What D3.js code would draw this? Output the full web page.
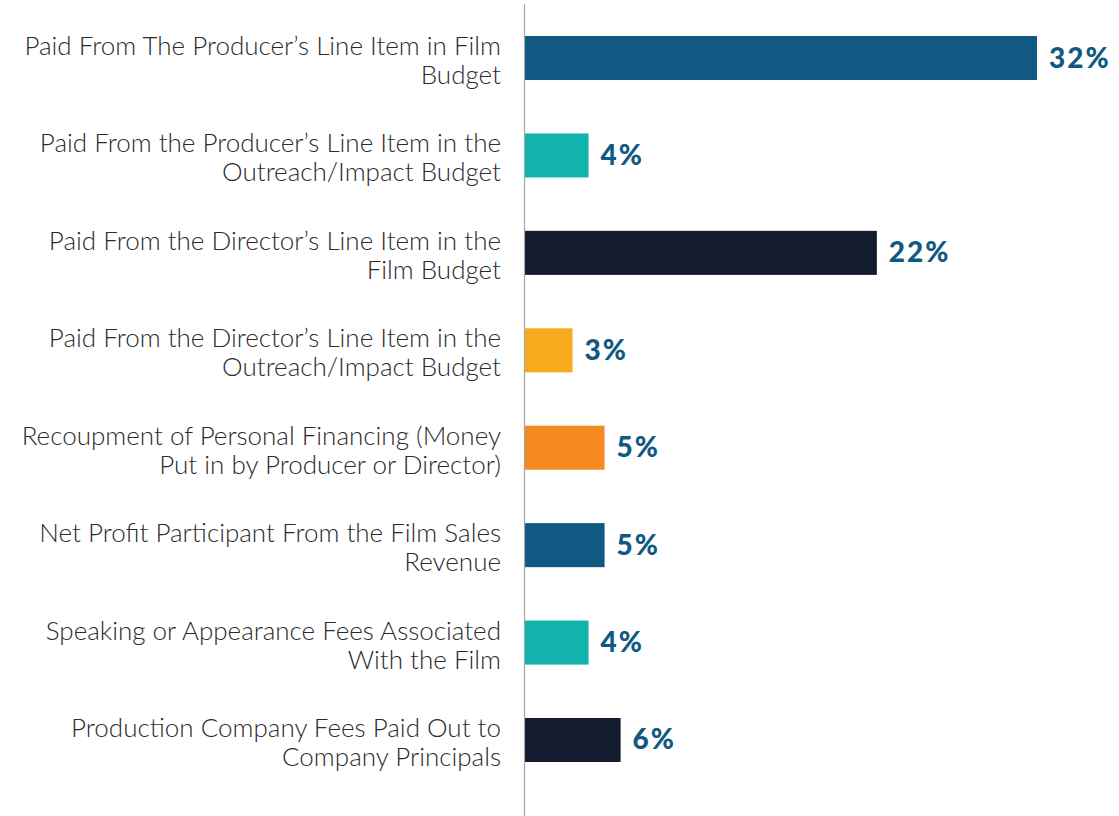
<!DOCTYPE html>
<html>
<head>
<meta charset="utf-8">
<script src="https://cdn.jsdelivr.net/npm/d3@7"></script>
<style>
  html, body { margin: 0; padding: 0; background: #fff; }
  svg { display: block; }
</style>
</head>
<body>
<svg id="chart" width="1119" height="816"></svg>
<script>
// Compensation sources, one line array per category label
const categories = [
  ["Paid From The Producer’s Line Item in Film", "Budget"],
  ["Paid From the Producer’s Line Item in the", "Outreach/Impact Budget"],
  ["Paid From the Director’s Line Item in the", "Film Budget"],
  ["Paid From the Director’s Line Item in the", "Outreach/Impact Budget"],
  ["Recoupment of Personal Financing (Money", "Put in by Producer or Director)"],
  ["Net Profit Participant From the Film Sales", "Revenue"],
  ["Speaking or Appearance Fees Associated", "With the Film"],
  ["Production Company Fees Paid Out to", "Company Principals"]
];
const values = [32, 4, 22, 3, 5, 5, 4, 6];
const barColors = ["#0f5983", "#13b3ad", "#131b2f", "#f8aa1f", "#f58a22", "#0f5983", "#13b3ad", "#131b2f"];

const svg = d3.select("#chart");
const keys = categories.map((c, i) => i);

const axisX = 524.5;
const x = d3.scaleLinear().domain([0, 32]).range([axisX, 1037]);
const y = d3.scaleBand()
  .domain(keys)
  .range([9.3, 788.7])
  .paddingInner(0.548)
  .paddingOuter(0.274);

// bars
svg.append("g").selectAll("rect")
  .data(keys)
  .join("rect")
  .attr("x", axisX)
  .attr("y", i => y(i))
  .attr("width", i => x(values[i]) - axisX)
  .attr("height", y.bandwidth())
  .attr("fill", i => barColors[i]);

// vertical baseline
svg.append("line")
  .attr("x1", axisX).attr("x2", axisX)
  .attr("y1", 4).attr("y2", 816)
  .attr("stroke", "#a6a6a6")
  .attr("stroke-width", 1.2);

// category labels, right-aligned against the baseline
const labels = svg.append("g")
  .attr("font-family", "Lato, 'Open Sans', sans-serif")
  .attr("font-weight", 300)
  .attr("font-size", 26)
  .attr("fill", "#2b2b2b")
  .attr("text-anchor", "end");

labels.selectAll("text")
  .data(keys)
  .join("text")
  .attr("x", 501)
  .attr("y", i => y(i) + y.bandwidth() / 2)
  .each(function (i) {
    const lines = categories[i];
    const t = d3.select(this);
    lines.forEach((ln, k) => {
      t.append("tspan")
        .attr("x", 501)
        .attr("dy", k === 0 ? (-(lines.length - 1) * 14.5 + 11.5) : 29)
        .text(ln);
    });
  });

// value labels
svg.append("g")
  .attr("font-family", "Lato, sans-serif")
  .attr("font-weight", 900)
  .attr("font-size", 28)
  .attr("letter-spacing", 2)
  .attr("fill", "#0f5983")
  .selectAll("text")
  .data(keys)
  .join("text")
  .attr("x", i => x(values[i]) + 12)
  .attr("y", i => y(i) + y.bandwidth() / 2 + 9.5)
  .text(i => values[i] + "%");
</script>
</body>
</html>
